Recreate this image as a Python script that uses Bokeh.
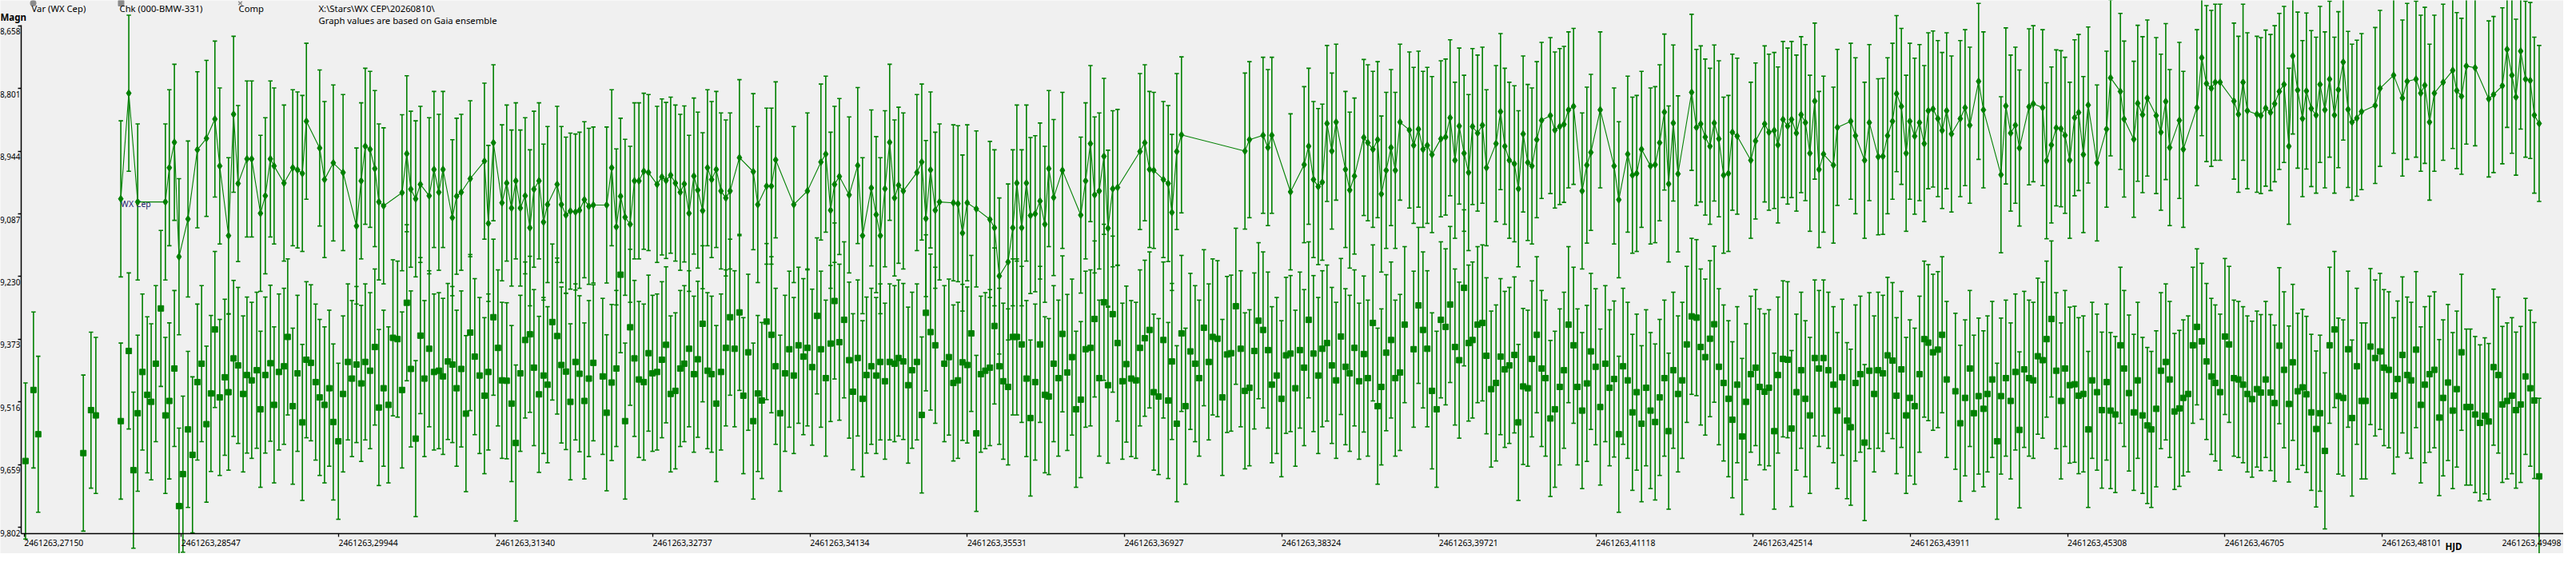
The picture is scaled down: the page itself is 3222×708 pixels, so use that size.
from bokeh.plotting import figure
from bokeh.models import Range1d, FixedTicker, ColumnDataSource, Whisker, TeeHead, Label, CustomJSTickFormatter
from bokeh.embed import file_html
from bokeh.resources import INLINE
from bokeh.core.properties import value

N = None
HJD_BASE = "2461263"

# HJD - 2461263, in units of 1e-5 day (one entry per frame)
hjd_e5 = [
    27162, 27233, 27275, 27676, 27744, 27787, 28009, 28080, 28121, 28159,
    28201, 28244, 28279, 28320, 28365, 28405, 28440, 28485, 28526, 28561,
    28606, 28646, 28689, 28727, 28770, 28810, 28845, 28888, 28933, 28966,
    29011, 29051, 29096, 29130, 29172, 29217, 29250, 29293, 29338, 29371,
    29414, 29459, 29492, 29537, 29579, 29622, 29658, 29698, 29740, 29776,
    29819, 29861, 29897, 29942, 29984, 30027, 30063, 30103, 30145, 30181,
    30224, 30266, 30302, 30344, 30387, 30427, 30468, 30508, 30550, 30586,
    30629, 30671, 30707, 30749, 30792, 30835, 30872, 30915, 30955, 30993,
    31034, 31076, 31114, 31154, 31197, 31240, 31275, 31320, 31360, 31396,
    31438, 31481, 31519, 31559, 31602, 31644, 31680, 31725, 31765, 31801,
    31843, 31886, 31924, 31964, 32004, 32049, 32085, 32128, 32168, 32208,
    32291, 32326, 32371, 32412, 32450, 32490, 32535, 32573, 32613,
    32656, 32698, 32734, 32774, 32817, 32854, 32895, 32937, 32980, 33016,
    33058, 33101, 33136, 33179, 33222, 33259, 33300, 33342, 33385, 33423,
    33463, 33506, 33541, 33584, 33629, 33669, 33705, 33747, 33790, 33828,
    33868, 33911, 33949, 33989, 34031, 34074, 34110, 34152, 34195, 34230,
    34273, 34316, 34351, 34394, 34436, 34481, 34515, 34557, 34600, 34635,
    34678, 34721, 34758, 34799, 34841, 34884, 34920, 34962, 35005, 35040,
    35083, 35126, 35163, 35204, 35246, 35284, 35327, 35367, 35407, 35448,
    35488, 35530, 35566, 35611, 35651, 35691, 35732, 35772, 35815, 35850,
    35893, 35935, 35971, 36014, 36056, 36092, 36134, 36177, 36220, 36255,
    36298, 36340, 36376, 36419, 36461, 36497, 36539, 36582, 36625, 36662,
    36703, 36745, 36781, 36823, 36866, 36909, 36944, 36987, 37029, 37065,
    37108, 37150, 37188, 37231, 37273, 37316, 37349, 37392, 37434, 37470,
    37513, 37555, 37591, 37633, 37676, 37711, 37754, 37797, 37839, 37875,
    37917, 37960, 37998, 38038, 38081, 38119, 38159, 38202, 38237, 38280,
    38322, 38363, 38403, 38446, 38486, 38524, 38564, 38607, 38649, 38685,
    38727, 38770, 38808, 38851, 38891, 38929, 38971, 39012, 39054, 39090,
    39135, 39177, 39210, 39253, 39296, 39334, 39376, 39417, 39459, 39497,
    39540, 39580, 39618, 39660, 39701, 39739, 39781, 39821, 39864, 39902,
    39945, 39985, 40020, 40065, 40108, 40144, 40186, 40229, 40269, 40307,
    40347, 40392, 40428, 40470, 40511, 40548, 40591, 40634, 40669, 40712,
    40752, 40795, 40833, 40873, 40918, 40953, 40994, 41036, 41072, 41114,
    41155,
    41200, 41238, 41278, 41320, 41358, 41399, 41441, 41479, 41522, 41562,
    41602, 41643, 41683, 41725, 41763, 41804, 41846, 41884, 41924, 41967,
    42010, 42048, 42088, 42130, 42168, 42209, 42251, 42294, 42329, 42372,
    42415, 42450, 42493, 42535, 42571, 42616, 42654, 42701, 42734, 42779,
    42820, 42855, 42898, 42940, 42978, 43018, 43061, 43099, 43139, 43182,
    43227, 43262, 43305, 43348, 43381, 43423, 43466, 43504, 43546, 43589,
    43625, 43667, 43708, 43752, 43788, 43831, 43873, 43906, 43949, 43992,
    44034, 44070, 44112, 44155, 44193, 44233, 44276, 44311, 44354, 44397,
    44439, 44475, 44517, 44560, 44596, 44638, 44681, 44716, 44759, 44802,
    44844, 44880, 44922, 44965, 45003, 45043, 45086, 45121, 45164, 45207,
    45249, 45285, 45327, 45370, 45406, 45448, 45491, 45526, 45569, 45612,
    45654, 45690, 45732, 45777, 45810, 45853, 45896, 45931, 45974, 46016,
    46052, 46095, 46137, 46180, 46215, 46258, 46301, 46336, 46379, 46421,
    46457, 46500, 46542, 46585, 46620, 46663, 46706, 46743, 46786, 46826,
    46867, 46905, 46947, 46990, 47025, 47068, 47111, 47148, 47189, 47231,
    47274, 47309, 47352, 47395, 47430, 47473, 47516, 47551, 47594, 47636,
    47679, 47714, 47757, 47800, 47835, 47878, 47920, 47956, 47999, 48041,
    48084, 48119, 48162, 48205, 48240, 48283, 48325, 48361, 48404, 48446,
    48482, 48524, 48567, 48610, 48645, 48688, 48730, 48766, 48808, 48851,
    48887, 48929, 48972, 49015, 49050, 49093, 49135, 49171, 49213, 49256,
    49292, 49334, 49377, 49419, 49455, 49498,
]

# Var (WX Cep) magnitude per frame (None = no measurement)
var_mag = [
    N, N, N, N, N, N, 9.040, 8.799, N, 9.047,
    N, N, N, N, N, 9.047, 8.969, 8.911, 9.172, N,
    9.086, N, 8.928, N, 8.902, N, 8.858, 8.965, N, 9.124,
    8.847, 9.005, N, 8.949, 8.949, N, 9.073, 9.033, 8.949, 8.965,
    N, 9.004, N, 8.969, 8.974, 8.982, 8.863, N, N, 8.924,
    8.996, N, 8.958, N, 8.980, N, N, 9.102, 8.999, 8.920,
    8.927, 8.971, 9.047, 9.056, N, N, N, 9.026, 8.937, 9.018,
    9.040, 9.007, N, 9.033, 8.973, 9.025, 8.973, N, 9.083, 9.034,
    9.025, N, 8.994, N, N, 8.954, 9.096, 8.912, N, 9.049,
    9.004, 9.061, 8.999, 9.061, 9.033, 9.106, 9.018, 8.999, 9.093, 9.053,
    N, 9.007, 9.053, 9.077, 9.068, 9.070, 9.066, 9.042, 9.057, 9.054,
    N, 9.054, 8.969, 9.104, 9.034, 9.082, 9.098, 8.999, 8.999,
    8.977, 8.980, N, 9.007, 8.990, 8.998, 8.986, 9.004, 9.025, 9.006,
    9.073, 8.988, 9.020, 9.067, 8.969, 8.996, 8.973, 9.022, 9.038, 9.022,
    N, 8.946, N, N, 8.978, 9.053, N, 9.011, 9.011, 8.951,
    N, N, N, 9.053, N, N, 9.022, N, N, 8.956,
    8.938, 9.066, 9.007, 8.989, N, 9.031, N, 8.964, 9.124, N,
    9.015, 9.076, 9.124, 9.017, 8.911, 9.038, 9.009, 9.022, N, N,
    8.980, 8.956, 9.085, 8.974, 9.066, 9.047, N, N, 9.049, 9.051,
    9.118, 9.049, N, 9.063, N, N, 9.087, 9.106, 9.216, N,
    9.184, 9.106, 9.004, 9.106, 9.004, 9.078, 9.074, 9.045, 9.098, 8.971,
    9.037, N, 8.975, N, N, N, 9.077, 8.999, 8.914, 9.031,
    9.022, 8.943, 9.107, 9.017, 9.014, N, N, N, N, 8.932,
    8.912, 8.973, 8.975, N, 8.996, 9.005, 9.071, 8.932, 8.894, N,
    N, N, N, N, N, N, N, N, N, N,
    N, N, 8.931, 8.905, N, N, 8.895, 8.923, 8.895, N,
    N, N, 9.024, N, N, 8.962, 8.920, 8.996, 9.012, 9.002,
    8.868, 8.931, 8.865, N, 8.973, 9.020, 8.988, N, 8.900, 8.912,
    8.927, 8.905, 9.029, 8.975, 8.923, 8.975, 8.865, N, 8.883, 8.918,
    8.881, 8.927, 8.918, 8.939, N, 8.903, 8.899, 8.855, 8.952, 8.874,
    8.936, 8.980, 8.875, 8.890, 8.872, 8.969, N, 8.914, 8.841, 8.920,
    8.952, 8.960, 9.017, 8.892, 8.957, 8.965, 8.905, 8.861, N, 8.850,
    8.883, 8.875, 8.870, 8.837, 8.829, N, 9.022, 8.963, 8.934, N,
    8.837,
    N, N, 8.965, 9.042, N, 8.938, 8.986, 8.982, 8.927, N,
    8.965, 8.962, 8.912, 8.842, 9.006, 8.867, 8.983, N, N, 8.797,
    8.877, 8.869, 8.899, 8.920, 8.867, 8.903, 8.986, 8.982, 8.888, 8.897,
    N, N, 8.952, 8.908, N, 8.869, 8.888, 8.884, 8.917, 8.859,
    8.874, 8.859, 8.890, 8.848, 8.866, 8.936, 8.817, 8.973, 8.938, N,
    8.963, 8.877, N, N, 8.863, 8.896, N, 8.952, 8.866, N,
    8.944, 8.943, 8.896, 8.863, 8.800, 8.829, 8.936, 8.863, 8.897, 8.866,
    8.914, 8.839, 8.835, 8.857, 8.884, 8.839, 8.892, N, 8.857, 8.832,
    8.872, N, 8.772, 8.837, N, N, N, 8.985, 8.828, 8.890,
    8.872, 8.924, N, 8.830, 8.823, N, 8.832, 8.953, 8.917, 8.878,
    8.880, 8.895, 8.952, 8.855, 8.843, 8.939, 8.826, N, 8.958, N,
    8.881, 8.764, N, 8.795, 8.858, N, 8.904, 8.822, 8.848, 8.810,
    N, 8.850, 8.888, 8.818, 8.923, N, 8.861, 8.927, N, N,
    8.832, 8.718, 8.777, 8.788, 8.774, 8.774, N, N, 8.817, 8.847,
    8.774, 8.839, N, 8.847, 8.850, 8.833, 8.843, 8.823, 8.795, 8.779,
    8.920, 8.714, 8.792, 8.857, 8.794, 8.834, 8.849, 8.779, 8.837, 8.767,
    8.849, 8.791, 8.728, 8.836, 8.865, 8.856, 8.841, N, N, 8.827,
    8.788, N, N, 8.758, N, 8.810, 8.772, N, 8.767, 8.799,
    8.781, 8.865, 8.799, N, 8.774, N, 8.747, 8.793, 8.806, 8.737,
    N, 8.741, N, N, 8.812, 8.802, N, 8.782, 8.699, 8.758,
    8.808, 8.703, 8.767, 8.770, 8.849, 8.868,
]

# Chk (000-BMW-331) magnitude per frame (None = no measurement)
chk_mag = [
    9.638, 9.476, 9.577, 9.620, 9.522, 9.534, 9.547, 9.387, 9.659, 9.529,
    9.435, 9.487, 9.503, 9.416, 9.290, 9.534, 9.501, 9.427, 9.741, 9.668,
    9.566, 9.624, 9.458, 9.416, 9.554, 9.484, 9.338, 9.493, 9.447, 9.481,
    9.404, 9.420, 9.485, 9.442, 9.454, 9.431, 9.520, 9.442, 9.415, 9.510,
    9.435, 9.422, 9.355, 9.513, 9.438, 9.550, 9.407, 9.414, 9.458, 9.493,
    9.510, 9.472, 9.549, 9.593, 9.485, 9.412, 9.450, 9.418, 9.461, 9.412,
    9.432, 9.378, 9.516, 9.472, 9.510, 9.357, 9.360, 9.476, 9.277, 9.428,
    9.587, 9.352, 9.450, 9.382, 9.435, 9.432, 9.445, 9.411, 9.418, 9.472,
    9.428, 9.530, 9.345, 9.400, 9.443, 9.489, 9.435, 9.310, 9.380, 9.454,
    9.455, 9.507, 9.597, 9.438, 9.362, 9.349, 9.425, 9.486, 9.443, 9.464,
    9.321, 9.353, 9.419, 9.434, 9.503, 9.412, 9.439, 9.501, 9.450, 9.414,
    9.445, 9.528, 9.459, 9.427, 9.213, 9.547, 9.333, 9.404, 9.452,
    9.458, 9.392, 9.438, 9.435, 9.407, 9.373, 9.485, 9.478, 9.427, 9.416,
    9.382, 9.440, 9.406, 9.325, 9.432, 9.440, 9.507, 9.435, 9.380, 9.310,
    9.382, 9.299, 9.489, 9.390, 9.547, 9.484, 9.500, 9.320, 9.350, 9.422,
    9.529, 9.438, 9.383, 9.443, 9.374, 9.400, 9.380, 9.424, 9.307, 9.383,
    9.449, 9.370, 9.273, 9.367, 9.316, 9.408, 9.480, 9.403, 9.496, 9.442,
    9.422, 9.443, 9.412, 9.456, 9.412, 9.416, 9.403, 9.411, 9.465, 9.431,
    9.412, 9.533, 9.300, 9.344, 9.374, N, 9.416, 9.401, 9.460, 9.454,
    9.413, 9.419, 9.347, 9.575, 9.440, 9.432, 9.425, 9.330, 9.422, 9.456,
    9.469, 9.355, 9.355, 9.372, 9.450, 9.540, 9.458, 9.372, 9.487, 9.491,
    9.416, 9.449, 9.348, 9.436, 9.401, 9.520, 9.498, 9.383, 9.380, 9.314,
    9.449, 9.276, 9.465, 9.303, 9.369, 9.456, 9.417, 9.450, 9.454, 9.380,
    9.358, 9.339, 9.481, 9.491, 9.362, 9.500, 9.411, 9.553, 9.347, 9.513,
    9.388, 9.416, 9.449, 9.334, 9.412, 9.355, 9.359, 9.493, 9.395, 9.392,
    9.285, 9.382, 9.478, 9.471, 9.387, 9.318, 9.339, 9.385, 9.464, 9.443,
    9.496, 9.397, 9.393, 9.472, 9.385, 9.425, 9.316, 9.393, 9.443, 9.382,
    9.369, 9.420, 9.454, 9.354, 9.423, 9.438, 9.380, 9.456, 9.394, 9.449,
    9.323, 9.513, 9.469, 9.391, 9.362, 9.449, 9.436, 9.327, N, 9.383,
    9.283, 9.339, 9.382, 9.478, 9.520, 9.316, 9.332, 9.281, 9.378, 9.408,
    9.243, 9.369, 9.362, 9.327, 9.323, 9.398, 9.474, 9.460, 9.400, 9.429,
    9.420, 9.396, 9.550, 9.468, 9.472, 9.405, 9.350, 9.427, 9.449, 9.541,
    9.520, 9.469, 9.431, 9.327, 9.374, 9.469, 9.523, 9.461, 9.388, 9.423,
    9.515,
    9.416, 9.471, 9.451, 9.577, 9.422, 9.454, 9.527, 9.481, 9.553, 9.471,
    9.523, 9.549, 9.493, 9.449, 9.570, 9.431, 9.485, 9.454, 9.372, 9.308,
    9.311, 9.378, 9.401, 9.359, 9.326, 9.423, 9.460, 9.496, 9.544, 9.464,
    9.582, 9.503, 9.440, 9.425, 9.469, 9.480, 9.471, 9.570, 9.442, 9.405,
    9.407, 9.564, 9.481, 9.431, 9.496, 9.534, 9.403, 9.427, 9.403, 9.431,
    9.464, 9.523, 9.447, 9.546, 9.561, 9.460, 9.440, 9.596, 9.432, 9.485,
    9.431, 9.438, 9.397, 9.409, 9.489, 9.429, 9.534, 9.494, 9.513, 9.440,
    9.360, 9.368, 9.390, 9.384, 9.350, 9.452, N, 9.479, 9.552, 9.494,
    9.427, 9.529, 9.490, 9.519, 9.485, 9.452, 9.593, 9.490, 9.449, 9.501,
    9.435, 9.567, 9.429, 9.449, 9.454, 9.399, 9.408, 9.360, 9.314, 9.432,
    9.501, 9.427, 9.465, 9.463, 9.489, 9.485, 9.566, 9.454, 9.481, 9.522,
    9.458, 9.523, 9.532, 9.374, 9.427, 9.483, 9.527, 9.454, 9.534, 9.557,
    9.566, 9.519, 9.432, 9.412, 9.452, 9.525, 9.518, 9.494, 9.485, 9.374,
    9.332, 9.365, 9.411, 9.445, 9.460, 9.481, 9.354, 9.372, 9.449, 9.452,
    9.464, 9.485, 9.497, 9.474, 9.482, 9.452, 9.482, 9.506, 9.375, 9.430,
    9.508, 9.413, 9.479, 9.470, 9.486, 9.527, 9.565, 9.529, 9.615, 9.374,
    9.338, 9.490, 9.494, 9.383, 9.540, 9.422, 9.501, 9.501, 9.377, 9.403,
    9.388, 9.425, 9.430, 9.489, 9.451, 9.396, 9.442, 9.454, 9.384, 9.510,
    9.464, 9.440, 9.430, 9.539, 9.494, 9.459, 9.523, 9.474, 9.390, 9.515,
    9.515, 9.532, 9.551, 9.535, 9.548, 9.424, 9.442, 9.509, 9.501, 9.489,
    9.522, 9.509, 9.445, 9.472, 9.500, 9.673,
]

mag_err = 0.178  # error bar half-length (mag), same for every point

x_tick_e5 = [27150, 28547, 29944, 31340, 32737, 34134, 35531, 36927, 38324,
             39721, 41118, 42514, 43911, 45308, 46705, 48101, 49498]
y_tick_vals = [8.658, 8.801, 8.944, 9.087, 9.230, 9.373, 9.516, 9.659, 9.802]

series_names = ["Var (WX Cep)", "Chk (000-BMW-331)", "Comp"]
info_lines = ["X:\\Stars\\WX CEP\\20260810\\", "Graph values are based on Gaia ensemble"]
var_star_label = "WX Cep"
y_title = "Magn"
x_title = "HJD"

# ---------------- layout ----------------
W, H = 3206, 692
X0, X1 = 0.26939, 0.497154
YT, YB = 8.58724, 9.84932
GREEN = "#008000"
GRAY = "#8a8a8a"
FONT = "Noto Sans"
BG = "#f0f0f0"


def px_x(px):
    return X0 + (px - 8) * (X1 - X0) / W


def px_y(py):
    return YT + (py - 8) * (YB - YT) / H


n = min(len(hjd_e5), len(var_mag), len(chk_mag))
t_var = [hjd_e5[i] / 1e5 for i in range(n) if var_mag[i] is not None]
m_var = [var_mag[i] for i in range(n) if var_mag[i] is not None]
t_chk = [hjd_e5[i] / 1e5 for i in range(n) if chk_mag[i] is not None]
m_chk = [chk_mag[i] for i in range(n) if chk_mag[i] is not None]

p = figure(width=W, height=H, x_range=Range1d(X0, X1), y_range=Range1d(YB, YT),
           output_backend="svg", toolbar_location=None, min_border=0,
           background_fill_color=BG, border_fill_color=BG, outline_line_color=None)
p.grid.visible = False

XAXIS_Y = px_y(674.5)
YAXIS_X = px_x(34)

xa = p.xaxis[0]
xa.fixed_location = XAXIS_Y
xa.ticker = FixedTicker(ticks=[v / 1e5 for v in x_tick_e5])
xa.formatter = CustomJSTickFormatter(code="return '';")
xa.bounds = (YAXIS_X, X1 + 0.01)
xa.axis_line_color = "black"
xa.axis_line_width = 1.5
xa.major_tick_line_color = "black"
xa.major_tick_line_width = 1.3
xa.major_tick_out = 4
xa.major_tick_in = 0
xa.minor_tick_line_color = None

tick_shift = 7 * (YB - YT) / H  # tick marks sit a little above their labels
ya = p.yaxis[0]
ya.fixed_location = YAXIS_X
ya.ticker = FixedTicker(ticks=[v - tick_shift for v in y_tick_vals])
ya.formatter = CustomJSTickFormatter(code="return '';")
ya.bounds = (px_y(39), XAXIS_Y)
ya.axis_line_color = "black"
ya.axis_line_width = 1.5
ya.major_tick_line_color = "black"
ya.major_tick_line_width = 1.3
ya.major_tick_out = 4
ya.major_tick_in = 0
ya.minor_tick_line_color = None

# x tick labels: left-aligned at their tick; the last one is kept inside the frame
x_tick_text = [HJD_BASE + "," + "%05d" % v for v in x_tick_e5]
p.text(x=[v / 1e5 for v in x_tick_e5[:-1]], y=[XAXIS_Y] * (len(x_tick_e5) - 1),
       text=x_tick_text[:-1], text_align="left", text_baseline="middle",
       x_offset=0, y_offset=12, text_font=value(FONT), text_font_size="10.4px",
       text_color="black")
p.text(x=[X1], y=[XAXIS_Y], text=x_tick_text[-1:], text_align="right",
       text_baseline="middle", x_offset=-3, y_offset=12, text_font=value(FONT),
       text_font_size="10.4px", text_color="black")
y_tick_text = [("%.3f" % v).replace(".", ",") for v in y_tick_vals]
p.text(x=[YAXIS_X] * len(y_tick_vals), y=y_tick_vals, text=y_tick_text,
       text_align="right", text_baseline="middle", x_offset=-1,
       text_font=value(FONT), text_font_size="10px", text_color="black")

# star label at first Var point
p.text(x=[t_var[0]], y=[m_var[0]], text=[var_star_label], text_align="left",
       text_baseline="middle", x_offset=0, y_offset=6,
       text_font=value(FONT), text_font_size="10.5px", text_color="#22226a")

# error bars
for tt, mm in ((t_chk, m_chk), (t_var, m_var)):
    src = ColumnDataSource(dict(t=tt, lo=[m - mag_err for m in mm], hi=[m + mag_err for m in mm]))
    p.add_layout(Whisker(base="t", lower="lo", upper="hi", source=src,
                         line_color=GREEN, line_width=1.6,
                         upper_head=TeeHead(size=5.5, line_color=GREEN, line_width=1.6),
                         lower_head=TeeHead(size=5.5, line_color=GREEN, line_width=1.6)))

# series
p.scatter(t_chk, m_chk, marker="square", size=7, fill_color=GREEN, line_color=GREEN)
p.line(t_var, m_var, line_color=GREEN, line_width=1.1)
p.scatter(t_var, m_var, marker="diamond", size=9, fill_color=GREEN, line_color=GREEN)

# header legend
leg_x = [47, 157, 306]
leg_marker = ["circle", "square", "x"]
for lx, mk, name in zip(leg_x, leg_marker, series_names):
    p.scatter([px_x(lx + 2)], [px_y(11.5)], marker=mk, size=6.5,
              fill_color=GRAY, line_color=GRAY, line_width=1.5)
    p.add_layout(Label(x=px_x(lx), y=px_y(17.5), text=name, text_baseline="middle",
                       text_font=FONT, text_font_size="11.3px", text_color="black"))
p.add_layout(Label(x=px_x(406), y=px_y(17.5), text=info_lines[0], text_baseline="middle",
                   text_font=FONT, text_font_size="11.3px", text_color="black"))
p.add_layout(Label(x=px_x(406), y=px_y(33), text=info_lines[1], text_baseline="middle",
                   text_font=FONT, text_font_size="11.3px", text_color="black"))

# axis titles
p.add_layout(Label(x=px_x(8), y=px_y(28.5), text=y_title, text_baseline="middle",
                   text_font=FONT, text_font_size="11.5px", text_font_style="bold",
                   text_color="black"))
p.add_layout(Label(x=px_x(3066), y=px_y(691), text=x_title, text_baseline="middle",
                   text_font=FONT, text_font_size="11.5px", text_font_style="bold",
                   text_color="black"))

open("out.html", "w").write(file_html(p, INLINE))
